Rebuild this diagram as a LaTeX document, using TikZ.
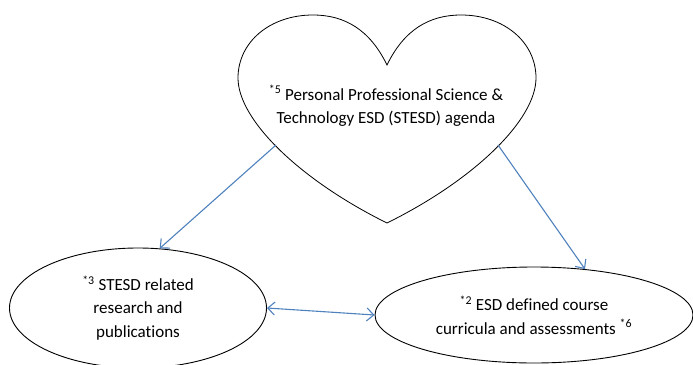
\documentclass[tikz,border=0pt]{standalone}
\usepackage{fontspec}
\setmainfont{Carlito}[Ligatures=CommonOff]
\usetikzlibrary{shapes.geometric,arrows.meta}
\definecolor{linkblue}{RGB}{79,129,189}
\tikzset{
  >={Straight Barb[length=7pt,width=13pt]},
  label text/.style={align=center, font=\fontsize{17}{23.5}\selectfont},
  topic/.style={draw, ellipse, line width=0.9pt, label text},
  link/.style={draw=linkblue, line width=1.1pt, ->},
}

\begin{document}
\begin{tikzpicture}[x=1pt, y=-1pt]
\useasboundingbox (0,0) rectangle (693,364);
\draw[line width=0.8pt] (387,65) .. controls (370,30) and (345,15) .. (313,15)
  .. controls (270,15) and (238,42) .. (238,78)
  .. controls (238,120) and (300,180) .. (387,223)
  .. controls (474,180) and (536,120) .. (536,78)
  .. controls (536,42) and (504,15) .. (461,15)
  .. controls (429,15) and (404,30) .. (387,65) -- cycle;
\coordinate (heartL) at (276,145);
\coordinate (heartR) at (498,145);
\node[label text] (agenda) at (386,106) {\textsuperscript{*5} Personal Professional Science \&\\Technology ESD (STESD) agenda};
\node[topic, minimum width=257pt, minimum height=120pt] (research) at (138,308) {\textsuperscript{*3} STESD related\\research and\\publications};
\node[topic, minimum width=318pt, minimum height=96pt] (course) at (534,315) {\textsuperscript{*2} ESD defined course\\curricula and assessments \textsuperscript{*6}};
\draw[link] (heartL) -- (research.70);
\draw[link] (heartR) -- (course.42);
\draw[link, <->] (research.east) -- (course.west);
\end{tikzpicture}
\end{document}
